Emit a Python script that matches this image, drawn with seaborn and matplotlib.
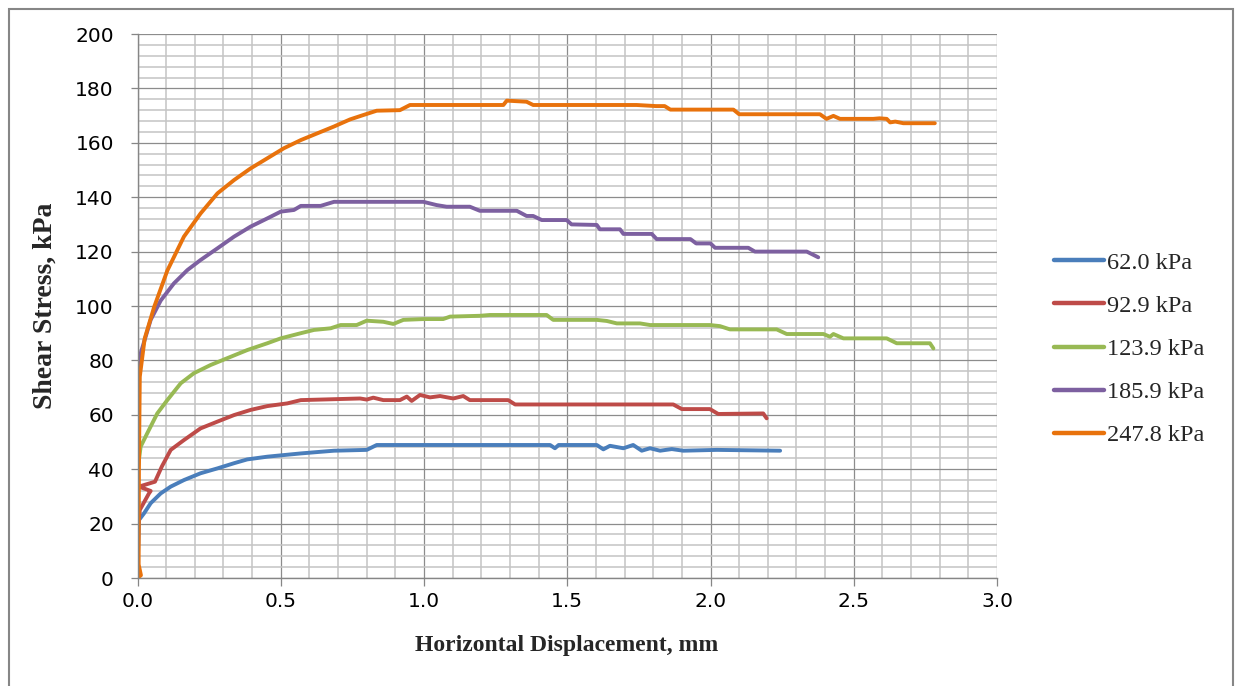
import numpy as np
import pandas as pd
import matplotlib
matplotlib.use("Agg")
import matplotlib.pyplot as plt
import seaborn as sns
from matplotlib.patches import Rectangle
from matplotlib.ticker import MultipleLocator, FormatStrFormatter

# ---------------- data ----------------
labels = ["62.0 kPa", "92.9 kPa", "123.9 kPa", "185.9 kPa", "247.8 kPa"]

x_62 = [0, 0.002, 0.005, 0.023, 0.046, 0.081, 0.116, 0.162, 0.22, 0.279, 0.337, 0.383,
        0.453, 0.511, 0.57, 0.639, 0.686, 0.8, 0.835, 1.44, 1.457, 1.47, 1.603, 1.626,
        1.649, 1.696, 1.73, 1.76, 1.789, 1.824, 1.865, 1.905, 2.022, 2.243]
y_62 = [0, 10, 21.3, 23.8, 27.5, 31.1, 33.6, 36, 38.5, 40.3, 42.2, 43.6,
        44.6, 45.2, 45.8, 46.4, 46.8, 47.1, 48.9, 48.9, 47.7, 48.9, 48.9, 47.3,
        48.6, 47.7, 48.9, 46.8, 47.7, 46.8, 47.4, 46.8, 47.1, 46.8]

x_93 = [0, 0.002, 0.003, 0.008, 0.04, 0.046, 0.005, 0.061, 0.085, 0.116, 0.162, 0.22,
        0.279, 0.337, 0.395, 0.453, 0.523, 0.57, 0.777, 0.8, 0.823, 0.858, 0.916, 0.94,
        0.957, 0.986, 1.021, 1.056, 1.102, 1.137, 1.16, 1.294, 1.318, 1.87, 1.9, 1.998,
        2.027, 2.184, 2.196]
y_93 = [0, 10, 20, 25, 31.1, 32, 33.6, 35.4, 41, 47.1, 50.7, 55,
        57.5, 59.9, 61.8, 63.2, 64.2, 65.4, 66, 65.6, 66.3, 65.4, 65.4, 66.7,
        65.1, 67.3, 66.4, 66.9, 66, 66.9, 65.4, 65.4, 63.8, 63.8, 62.1, 62.1,
        60.3, 60.5, 58.7]

x_124 = [0, 0.002, 0.011, 0.034, 0.069, 0.104, 0.151, 0.197, 0.255, 0.313, 0.383, 0.453,
         0.5, 0.57, 0.616, 0.674, 0.709, 0.765, 0.8, 0.858, 0.893, 0.928, 0.998, 1.067,
         1.091, 1.195, 1.23, 1.428, 1.451, 1.603, 1.638, 1.673, 1.754, 1.789, 1.998, 2.033,
         2.068, 2.231, 2.266, 2.394, 2.417, 2.429, 2.464, 2.615, 2.65, 2.766, 2.778]
y_124 = [0, 40.9, 48.3, 53.2, 60.5, 65.4, 71.6, 75.3, 78.3, 80.8, 83.8, 86.3,
         88.1, 90, 91.2, 91.8, 93, 93, 94.6, 94.2, 93.4, 94.9, 95.2, 95.2,
         96.1, 96.4, 96.7, 96.7, 94.9, 94.9, 94.5, 93.6, 93.6, 93, 93, 92.6,
         91.4, 91.4, 89.7, 89.7, 88.7, 89.7, 88.1, 88.1, 86.3, 86.3, 84.4]

x_186 = [0, 0.002, 0.011, 0.046, 0.081, 0.127, 0.174, 0.22, 0.279, 0.337, 0.395, 0.453,
         0.5, 0.546, 0.57, 0.639, 0.686, 0.998, 1.044, 1.079, 1.16, 1.195, 1.324, 1.358,
         1.381, 1.411, 1.498, 1.515, 1.603, 1.614, 1.684, 1.696, 1.795, 1.812, 1.93, 1.95,
         2.0, 2.016, 2.132, 2.155, 2.336, 2.359, 2.376]
y_186 = [0, 74, 82.6, 94.9, 102, 108.3, 113.2, 116.9, 121.2, 125.5, 129.2, 132.2,
         134.7, 135.3, 136.8, 136.8, 138.3, 138.3, 137.1, 136.5, 136.5, 135, 135, 133.1,
         133.1, 131.6, 131.6, 130, 129.8, 128.2, 128.2, 126.5, 126.5, 124.6, 124.6, 123,
         123, 121.4, 121.4, 120, 120, 118.8, 117.9]

x_248 = [0, 0.012, 0.004, 0.005, 0.008, 0.025, 0.058, 0.104, 0.162, 0.22, 0.279, 0.337,
         0.395, 0.453, 0.511, 0.57, 0.628, 0.686, 0.742, 0.788, 0.835, 0.916, 0.951, 1.277,
         1.289, 1.358, 1.381, 1.742, 1.81, 1.84, 1.86, 2.08, 2.1, 2.382, 2.405,
         2.429, 2.452, 2.568, 2.59, 2.615, 2.627, 2.645, 2.673, 2.783]
y_248 = [0, 1, 5, 40, 74, 88, 99.6, 113, 125.5, 134, 141.4, 146.3,
         150.6, 154.3, 158, 161, 163.5, 166, 168.6, 170.2, 171.8, 172, 173.9, 173.9,
         175.5, 175.1, 173.9, 173.9, 173.5, 173.5, 172.2, 172.2, 170.5, 170.5, 168.8,
         169.9, 168.8, 168.8, 169, 168.8, 167.5, 167.8, 167.2, 167.2]

colors = ["#4A7EBB", "#BE4B48", "#98B954", "#7D60A0", "#E8720C"]

series_x = [x_62, x_93, x_124, x_186, x_248]
series_y = [y_62, y_93, y_124, y_186, y_248]

frames = []
for lab, xs, ys in zip(labels, series_x, series_y):
    frames.append(pd.DataFrame({"disp": xs, "stress": ys, "load": lab}))
df = pd.concat(frames, ignore_index=True)

# ---------------- style ----------------
sns.set_style("white")
plt.rcParams["font.family"] = ["DejaVu Sans"]

W, H = 1235, 686
fig = plt.figure(figsize=(W / 100, H / 100), dpi=100)
ax = fig.add_axes([137.5 / W, 1 - 578 / H, (997 - 137.5) / W, (578 - 34) / H])

palette = dict(zip(labels, colors))
sns.lineplot(data=df, x="disp", y="stress", hue="load", hue_order=labels,
             palette=palette, sort=False, estimator=None, units="load",
             linewidth=2.8, ax=ax, legend=False)

ax.set_xlim(0, 3.0)
ax.set_ylim(0, 200)
ax.xaxis.set_major_locator(MultipleLocator(0.5))
ax.xaxis.set_minor_locator(MultipleLocator(0.1))
ax.yaxis.set_major_locator(MultipleLocator(20))
ax.yaxis.set_minor_locator(MultipleLocator(4))
ax.xaxis.set_major_formatter(FormatStrFormatter("%.1f"))
ax.yaxis.set_major_formatter(FormatStrFormatter("%d"))

ax.grid(which="major", color="#8C8C8C", linewidth=0.9)
ax.grid(which="minor", color="#C4C4C4", linewidth=1.1)
ax.set_axisbelow(True)

for s in ["top", "right"]:
    ax.spines[s].set_visible(False)
for s in ["left", "bottom"]:
    ax.spines[s].set_color("#868686")
    ax.spines[s].set_linewidth(1.0)

ax.tick_params(axis="y", which="major", direction="out", length=5, width=0.9,
               color="#868686", pad=12, labelsize=14.5, labelcolor="black", left=True)
ax.tick_params(axis="x", which="major", direction="out", length=6, width=0.9,
               color="#868686", pad=4, labelsize=14.5, labelcolor="black", bottom=True)
ax.tick_params(which="minor", length=0)

serif = ["Liberation Serif", "DejaVu Serif"]
ax.set_xlabel("")
ax.set_ylabel("")
fig.text(567 / W, 1 - 645 / H, "Horizontal Displacement, mm", ha="center", va="center",
         fontsize=17, fontweight="bold", family=serif)
fig.text(45 / W, 1 - 306 / H, "Shear Stress, kPa", ha="center", va="center",
         rotation=90, fontsize=20, fontweight="bold", family=serif)

handles = [plt.Line2D([], [], color=c, linewidth=3.2, solid_capstyle="round") for c in colors]
leg = fig.legend(handles, labels, loc="center left", bbox_to_anchor=(1032 / W, 1 - 349 / H),
                 frameon=False, handlelength=2.05, handletextpad=0.15, labelspacing=0.87,
                 prop={"family": serif, "size": 17.5})

# outer chart border
fig.patches.append(Rectangle((9 / W, -0.05), (1233 - 9) / W, 1.05 - 9 / H,
                             transform=fig.transFigure, fill=False,
                             edgecolor="#868686", linewidth=1.5))

fig.savefig("out.png", dpi=100)
